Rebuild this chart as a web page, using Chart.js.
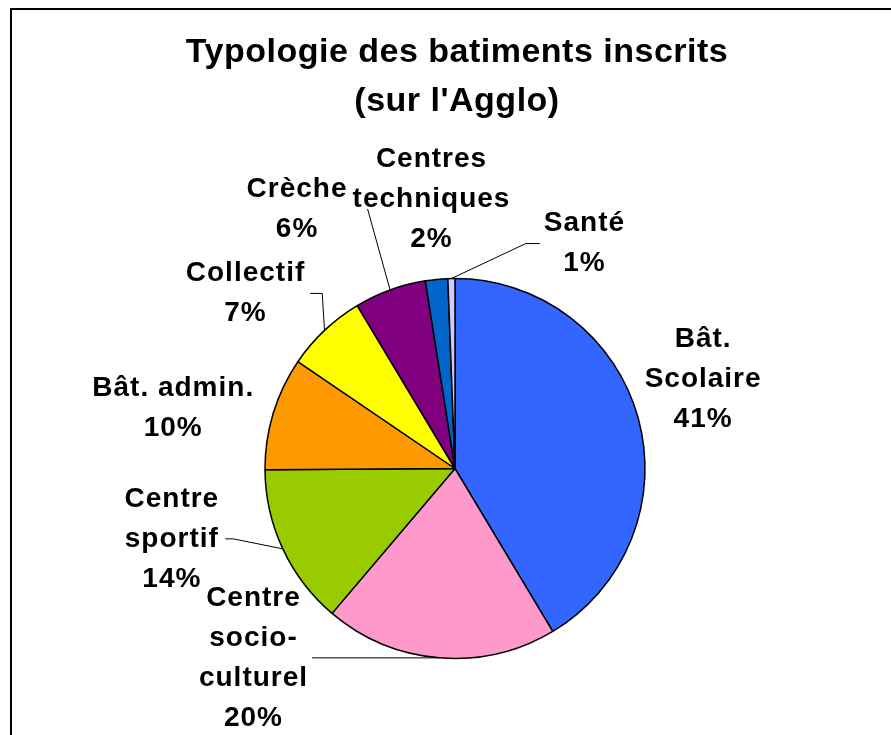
<!DOCTYPE html>
<html>
<head>
<meta charset="utf-8">
<script src="https://cdn.jsdelivr.net/npm/chart.js@4.4.0/dist/chart.umd.min.js"></script>
<style>
html, body { margin: 0; padding: 0; background: #fff; }
canvas { display: block; }
</style>
</head>
<body>
<canvas id="pieChart" width="891" height="735"></canvas>
<script>
const titleLines = ['Typologie des batiments inscrits', "(sur l'Agglo)"];
const categories = [
    ['Bât.', 'Scolaire'],
    ['Centre', 'socio-', 'culturel'],
    ['Centre', 'sportif'],
    ['Bât. admin.'],
    ['Collectif'],
    ['Crèche'],
    ['Centres', 'techniques'],
    ['Santé']
];
const shares = [41.4, 19.8, 13.7, 9.6, 6.9, 6.1, 1.9, 0.6];
const sliceColors = ['#3366FF', '#FF99CC', '#99CC00', '#FF9900', '#FFFF00', '#800080', '#0066CC', '#CCCCFF'];

// where each label block sits relative to the middle of its slice rim
const labelPlacement = [
    { dx: 65, dy: -39 },
    { dx: -186, dy: 0, leader: true, gap: 4, elbow: 0 },
    { dx: -111, dy: -10, leader: true, gap: 6, elbow: 8 },
    { dx: -100, dy: -5 },
    { dx: -79, dy: -37, leader: true, gap: 5, elbow: 12 },
    { dx: -93, dy: -81, leader: true, gap: 20, elbow: 0 },
    { dx: -5, dy: -80 },
    { dx: 133, dy: -35, leader: true, gap: 4, elbow: 14 }
];

const frameAndTitle = {
    id: 'frameAndTitle',
    beforeDraw(chart) {
        const ctx = chart.ctx;
        ctx.save();
        ctx.fillStyle = '#fff';
        ctx.fillRect(0, 0, chart.width, chart.height);
        ctx.fillStyle = '#000';
        ctx.fillRect(10, 8, chart.width - 10, 2);
        ctx.fillRect(10, 8, 2, chart.height - 8);
        ctx.font = 'bold 34px Arial, "Liberation Sans", sans-serif';
        ctx.letterSpacing = '0.5px';
        ctx.textAlign = 'center';
        ctx.textBaseline = 'middle';
        ctx.fillText(titleLines[0], 457, 53);
        ctx.fillText(titleLines[1], 457, 102);
        ctx.restore();
    }
};

const outsideLabels = {
    id: 'outsideLabels',
    afterDatasetsDraw(chart) {
        const ctx = chart.ctx;
        const meta = chart.getDatasetMeta(0);
        const total = shares.reduce((a, b) => a + b, 0);
        const lineH = 40;
        ctx.save();
        ctx.font = 'bold 28px Arial, "Liberation Sans", sans-serif';
        ctx.letterSpacing = '1px';
        ctx.fillStyle = '#000';
        ctx.strokeStyle = '#000';
        ctx.lineWidth = 1;
        ctx.textAlign = 'center';
        ctx.textBaseline = 'middle';
        meta.data.forEach((arc, i) => {
            const p = arc.getProps(['x', 'y', 'startAngle', 'endAngle', 'outerRadius'], true);
            const mid = (p.startAngle + p.endAngle) / 2;
            const ax = p.x + Math.cos(mid) * p.outerRadius;
            const ay = p.y + Math.sin(mid) * p.outerRadius;
            const place = labelPlacement[i];
            const cx = ax + place.dx;
            const cy = ay + place.dy;
            const lines = categories[i].concat(Math.round(shares[i] / total * 100) + '%');
            const top = cy - (lines.length - 1) * lineH / 2;
            let w = 0;
            lines.forEach((t, k) => {
                ctx.fillText(t, cx, top + k * lineH);
                w = Math.max(w, ctx.measureText(t).width);
            });
            if (place.leader) {
                const dir = place.dx < 0 ? 1 : -1;
                const sx = cx + dir * (w / 2 + place.gap);
                const ex = sx + dir * place.elbow;
                ctx.beginPath();
                ctx.moveTo(sx, cy);
                ctx.lineTo(ex, cy);
                ctx.lineTo(ax, ay);
                ctx.stroke();
            }
        });
        ctx.restore();
    }
};

new Chart(document.getElementById('pieChart'), {
    type: 'pie',
    data: {
        labels: categories.map(c => c.join(' ')),
        datasets: [{
            data: shares,
            backgroundColor: sliceColors,
            borderColor: '#000',
            borderWidth: 1.5,
            radius: 190
        }]
    },
    options: {
        responsive: false,
        animation: false,
        layout: { padding: { left: 255, right: 236, top: 268.5, bottom: 66.5 } },
        plugins: {
            legend: { display: false },
            title: { display: false },
            tooltip: { enabled: false }
        }
    },
    plugins: [frameAndTitle, outsideLabels]
});
</script>
</body>
</html>
